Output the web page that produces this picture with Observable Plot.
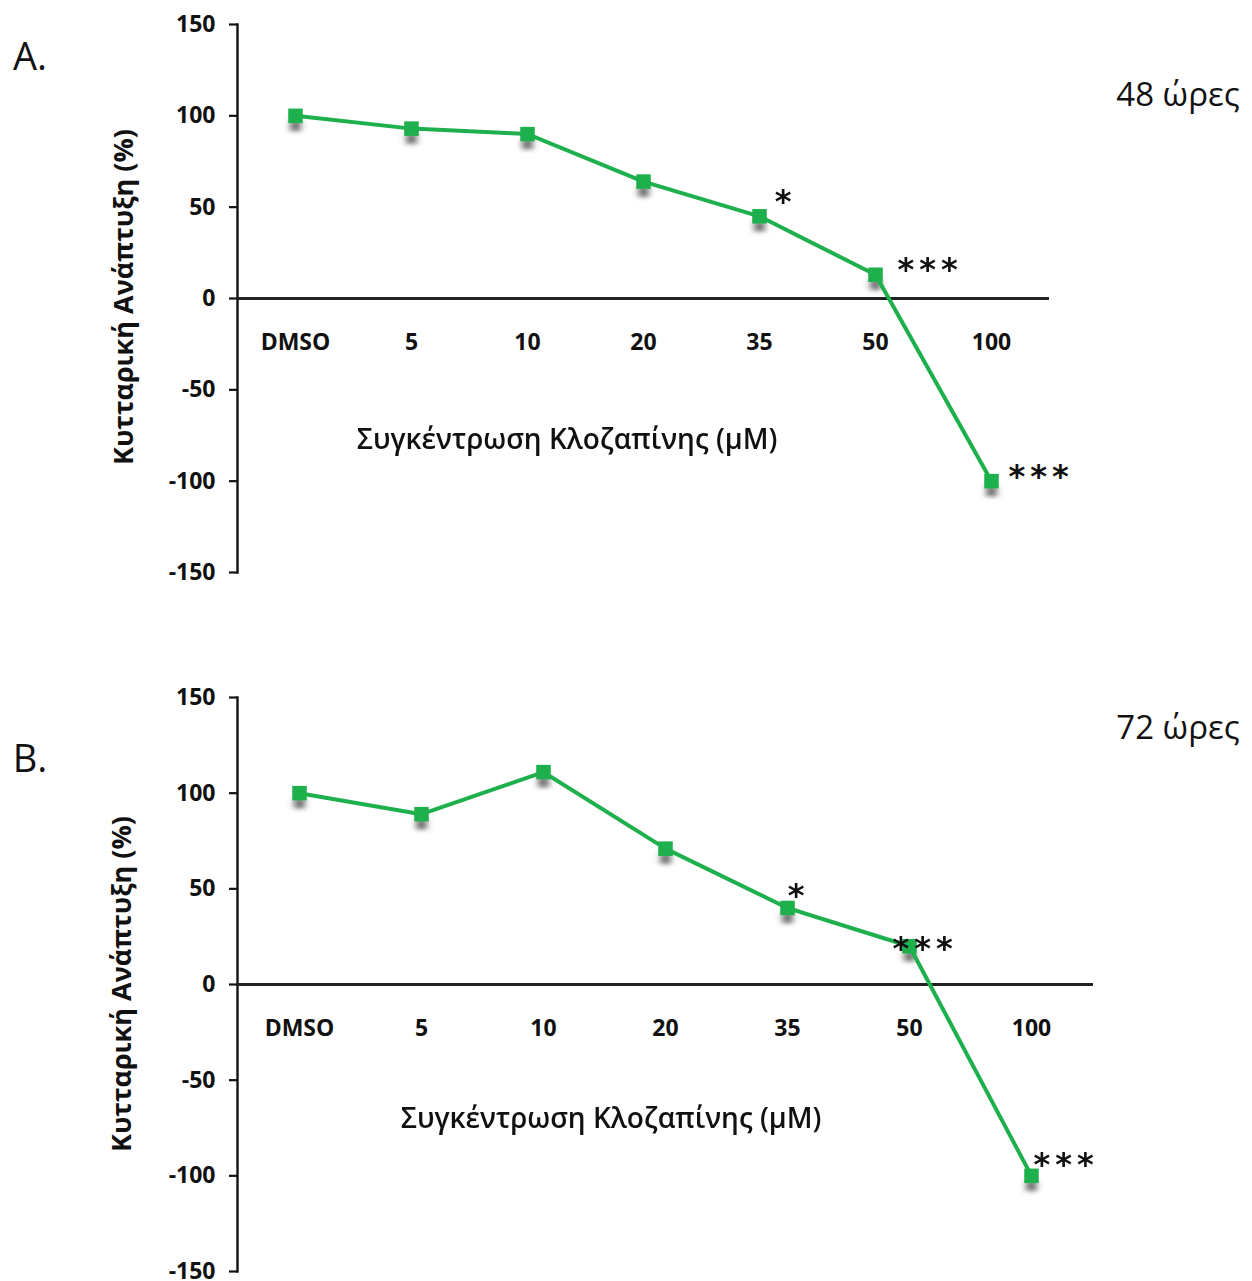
<!DOCTYPE html>
<html>
<head>
<meta charset="utf-8">
<script src="https://cdn.jsdelivr.net/npm/d3@7"></script>
<script src="https://cdn.jsdelivr.net/npm/@observablehq/plot@0.6"></script>
<style>
  body { margin: 0; background: #fff; }
  #wrap { position: relative; width: 1252px; height: 1281px; overflow: hidden; font-family: "Open Sans", "Noto Sans", sans-serif; color: #111; }
  .panel { position: absolute; left: 0; }
  .lbl { position: absolute; white-space: nowrap; line-height: 1; }
  .center { transform: translate(-50%, -50%); }
  .ytitle { transform: translate(-50%, -50%) rotate(-90deg); font-weight: bold; font-size: 27px; }
  .xtitle { font-weight: 600; font-size: 28px; }
</style>
</head>
<body>
<div id="wrap"></div>
<script>
// ---------- data ----------
const categories = ["DMSO", "5", "10", "20", "35", "50", "100"];
const growth48 = [100, 93, 90, 64, 45, 13, -100];
const growth72 = [100, 89, 111, 71, 40, 20, -100];
const yTicks = [-150, -100, -50, 0, 50, 100, 150];
const starCats48 = ["35", "50", "100"];
const starLabels48 = ["*", "***", "***"];
const starCats72 = ["35", "50", "100"];
const starLabels72 = ["*", "***", "***"];
const yTitle = "Κυτταρική Ανάπτυξη (%)";
const xTitle = "Συγκέντρωση Κλοζαπίνης (μM)";

const green = "#1db04c";
const shadowColor = "#606060";
const starColor = "#101010";
const wrap = document.getElementById("wrap");

function panel({id, values, starCats, starLabels, top, height, marginTop, marginBottom, marginRight, starOffsets}) {
  const data = categories.map((c, i) => ({c, v: values[i]}));
  const stars = starCats.map((c, i) => ({c, v: values[categories.indexOf(c)], label: starLabels[i]}));
  const starMarks = stars.map((s, i) => Plot.text([s], {
    x: "c", y: "v", text: "label",
    dx: starOffsets[i][0], dy: starOffsets[i][1],
    textAnchor: starOffsets[i][2],
    fontSize: 32, fontWeight: "bold", fill: starColor, fontFamily: "DejaVu Sans, sans-serif"
  }));
  const svg = Plot.plot({
    width: 1252,
    height,
    marginTop,
    marginBottom,
    marginLeft: 237,
    marginRight,
    style: {fontFamily: "'Open Sans', sans-serif", background: "transparent", color: "#111"},
    x: {type: "point", domain: categories, padding: 0.5, axis: null},
    y: {domain: [-150, 150], axis: null},
    marks: [
      Plot.axisY({ticks: yTicks, tickSize: 8, tickPadding: 14, tickFormat: d => String(d),
        fontSize: 23, fontWeight: "bold", strokeWidth: 2.2, stroke: "#111", label: null}),
      Plot.frame({anchor: "left", stroke: "#111", strokeWidth: 2.4}),
      Plot.ruleY([0], {stroke: "#222", strokeWidth: 3}),
      Plot.text(categories, {x: d => d, y: 0, dy: 44, fontSize: 23, fontWeight: "bold", fill: "#111"}),
      Plot.dot(data, {x: "c", y: "v", symbol: "square", r: 6, fill: shadowColor, fillOpacity: 0.9, dy: 10}),
      Plot.line(data, {x: "c", y: "v", stroke: green, strokeWidth: 4}),
      Plot.dot(data, {x: "c", y: "v", symbol: "square", r: 8.2, fill: green, stroke: "none"}),
      ...starMarks
    ]
  });
  const s = d3.select(svg);
  s.append("defs").html(`<filter id="blur${id}" x="-80%" y="-80%" width="260%" height="260%"><feGaussianBlur stdDeviation="3.2 2"/></filter>`);
  s.selectAll(`g[fill="${shadowColor}"]`).attr("filter", `url(#blur${id})`);
  s.selectAll(`g[fill="${starColor}"] text`).attr("letter-spacing", "5").style("letter-spacing", "5px");
  const div = document.createElement("div");
  div.className = "panel";
  div.style.top = top + "px";
  div.appendChild(svg);
  wrap.appendChild(div);
}

panel({id: "a", values: growth48, starCats: starCats48, starLabels: starLabels48,
  top: 0, height: 620, marginTop: 24, marginBottom: 48, marginRight: 203,
  starOffsets: [[26, -15, "middle"], [22, -5, "start"], [17, -4, "start"]]});
panel({id: "b", values: growth72, starCats: starCats72, starLabels: starLabels72,
  top: 640, height: 641, marginTop: 57, marginBottom: 10, marginRight: 159,
  starOffsets: [[11, -12, "middle"], [-17, 3, "start"], [2, -11, "start"]]});

function label(text, x, y, cls, extra) {
  const d = document.createElement("div");
  d.className = "lbl " + cls;
  d.textContent = text;
  d.style.left = x + "px";
  d.style.top = y + "px";
  if (extra) Object.assign(d.style, extra);
  wrap.appendChild(d);
}
label("A.", 30, 55, "center", {fontSize: "38px"});
label("B.", 30, 757, "center", {fontSize: "38px"});
label("48 ώρες", 1178, 93, "center", {fontSize: "33px"});
label("72 ώρες", 1178, 726, "center", {fontSize: "33px"});
label(yTitle, 122, 297, "ytitle");
label(yTitle, 120, 984, "ytitle");
label(xTitle, 567, 438, "center xtitle");
label(xTitle, 611, 1117, "center xtitle");
</script>
</body>
</html>
